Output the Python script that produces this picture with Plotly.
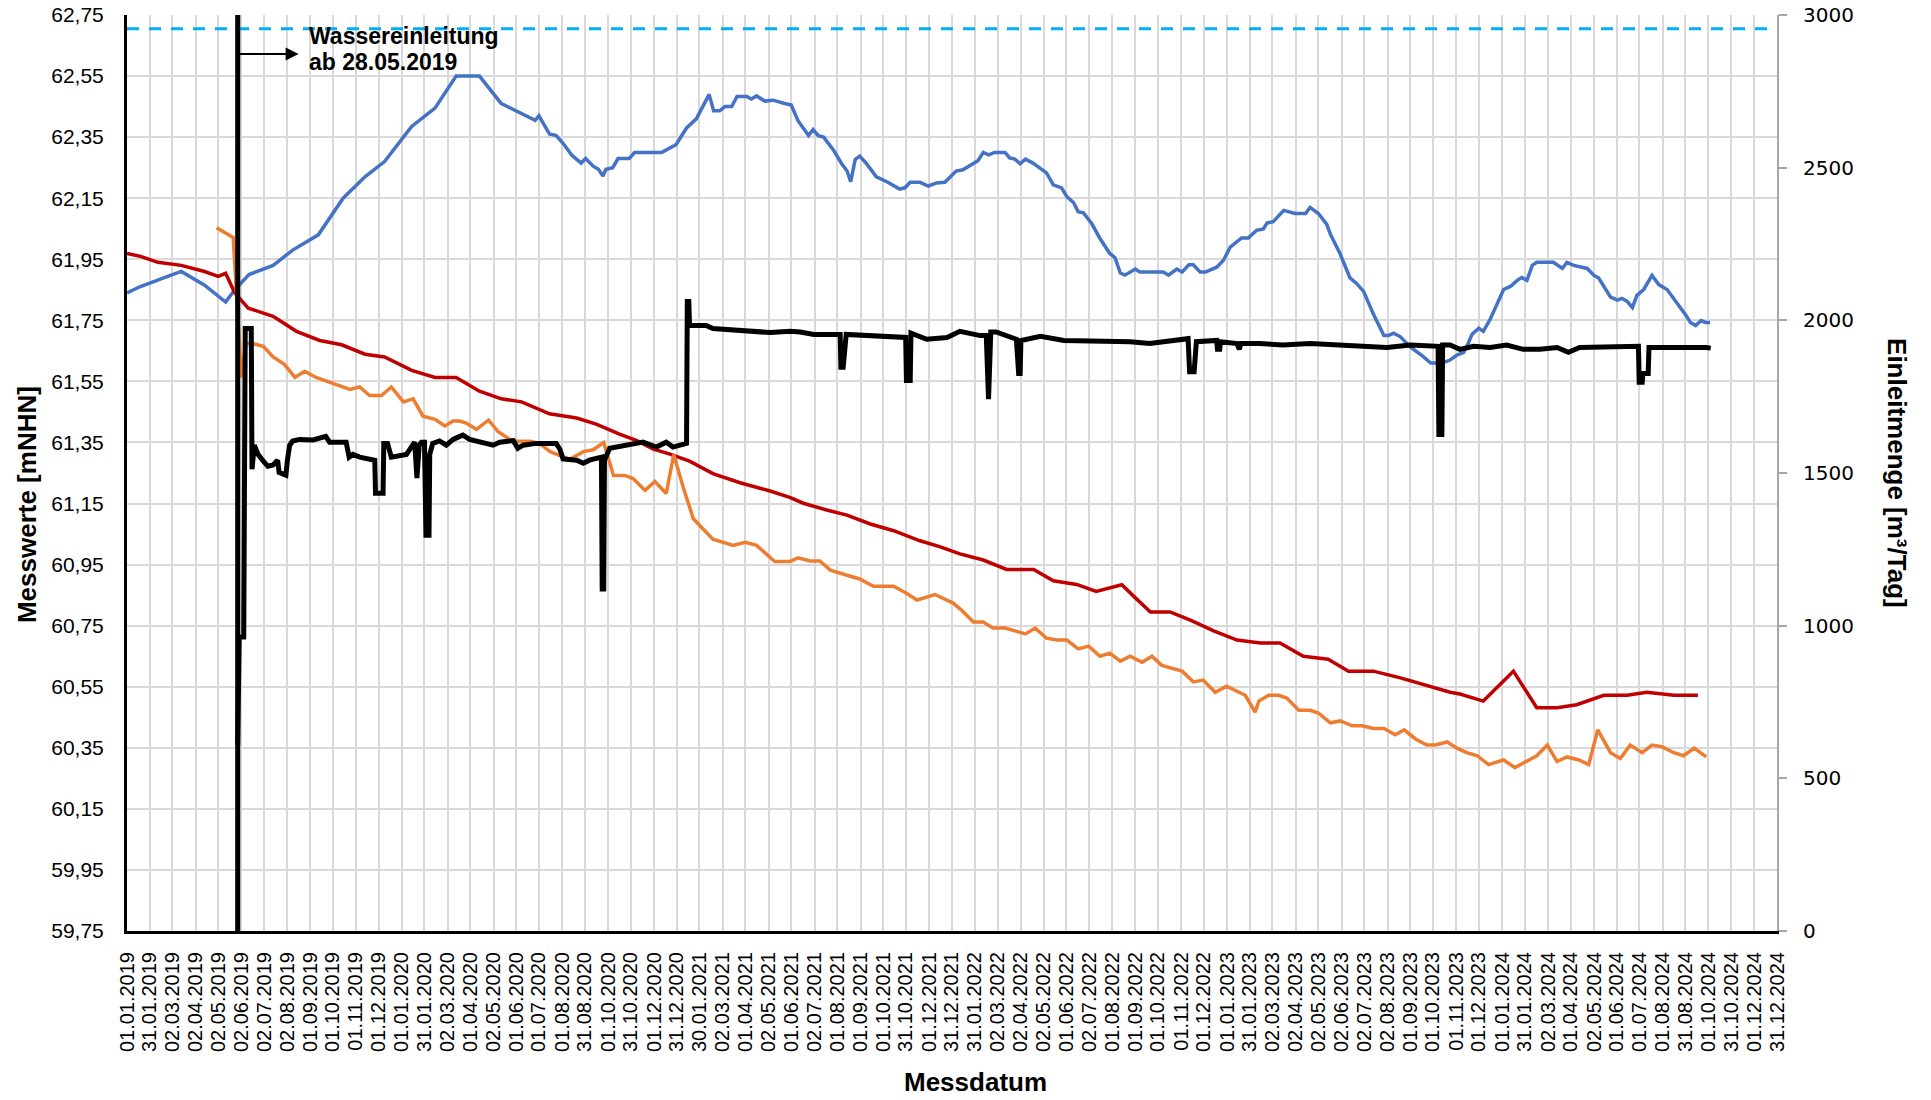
import plotly.graph_objects as go

# ---------------- data ----------------
tick_labels = [
    "01.01.2019", "31.01.2019", "02.03.2019", "02.04.2019", "02.05.2019", "02.06.2019",
    "02.07.2019", "02.08.2019", "01.09.2019", "01.10.2019", "01.11.2019", "01.12.2019",
    "01.01.2020", "31.01.2020", "02.03.2020", "01.04.2020", "02.05.2020", "01.06.2020",
    "01.07.2020", "01.08.2020", "31.08.2020", "01.10.2020", "31.10.2020", "01.12.2020",
    "31.12.2020", "30.01.2021", "02.03.2021", "01.04.2021", "02.05.2021", "01.06.2021",
    "02.07.2021", "01.08.2021", "01.09.2021", "01.10.2021", "31.10.2021", "01.12.2021",
    "31.12.2021", "31.01.2022", "02.03.2022", "02.04.2022", "02.05.2022", "01.06.2022",
    "02.07.2022", "01.08.2022", "01.09.2022", "01.10.2022", "01.11.2022", "01.12.2022",
    "01.01.2023", "31.01.2023", "02.03.2023", "02.04.2023", "02.05.2023", "02.06.2023",
    "02.07.2023", "02.08.2023", "01.09.2023", "01.10.2023", "01.11.2023", "01.12.2023",
    "01.01.2024", "31.01.2024", "02.03.2024", "01.04.2024", "02.05.2024", "01.06.2024",
    "01.07.2024", "01.08.2024", "31.08.2024", "01.10.2024", "31.10.2024", "01.12.2024",
    "31.12.2024",
]

left_tick_vals = [59.75, 59.95, 60.15, 60.35, 60.55, 60.75, 60.95, 61.15, 61.35,
                  61.55, 61.75, 61.95, 62.15, 62.35, 62.55, 62.75]
left_tick_text = ["59,75", "59,95", "60,15", "60,35", "60,55", "60,75", "60,95", "61,15",
                  "61,35", "61,55", "61,75", "61,95", "62,15", "62,35", "62,55", "62,75"]
right_tick_vals = [0, 500, 1000, 1500, 2000, 2500, 3000]

start_date = "2019-05-28"   # Wassereinleitung
ref_level = 62.705          # dashed reference line (mNHN)

blue_dates = [
    "2019-01-01", "2019-01-18", "2019-02-09", "2019-03-14", "2019-04-14", "2019-05-12",
    "2019-05-24", "2019-06-12", "2019-07-14", "2019-08-09", "2019-09-12", "2019-10-15",
    "2019-11-13", "2019-12-09", "2020-01-14", "2020-02-14", "2020-03-13", "2020-04-13",
    "2020-05-12", "2020-06-01", "2020-06-26", "2020-07-01", "2020-07-15", "2020-07-24",
    "2020-08-02", "2020-08-14", "2020-08-26", "2020-09-01", "2020-09-11", "2020-09-18",
    "2020-09-24", "2020-09-28", "2020-10-07", "2020-10-14", "2020-10-29", "2020-11-05",
    "2020-12-11", "2020-12-30", "2021-01-13", "2021-01-26", "2021-02-08", "2021-02-12",
    "2021-02-18", "2021-02-26", "2021-03-05", "2021-03-14", "2021-03-21", "2021-04-03",
    "2021-04-09", "2021-04-16", "2021-04-27", "2021-05-08", "2021-05-22", "2021-06-01",
    "2021-06-10", "2021-06-24", "2021-06-30", "2021-07-07", "2021-07-14", "2021-07-27",
    "2021-08-07", "2021-08-14", "2021-08-19", "2021-08-25", "2021-08-31", "2021-09-09",
    "2021-09-22", "2021-10-06", "2021-10-23", "2021-10-30", "2021-11-06", "2021-11-19",
    "2021-11-30", "2021-12-11", "2021-12-22", "2022-01-06", "2022-01-15", "2022-02-04",
    "2022-02-11", "2022-02-18", "2022-02-26", "2022-03-12", "2022-03-18", "2022-03-25",
    "2022-04-01", "2022-04-08", "2022-04-18", "2022-05-06", "2022-05-15", "2022-05-26",
    "2022-06-02", "2022-06-11", "2022-06-17", "2022-06-24", "2022-07-05", "2022-07-16",
    "2022-07-29", "2022-08-05", "2022-08-12", "2022-08-18", "2022-09-01", "2022-09-07",
    "2022-10-08", "2022-10-15", "2022-10-26", "2022-11-02", "2022-11-11", "2022-11-17",
    "2022-11-26", "2022-12-03", "2022-12-18", "2022-12-27", "2023-01-05", "2023-01-14",
    "2023-01-20", "2023-01-29", "2023-02-09", "2023-02-18", "2023-02-23", "2023-03-03",
    "2023-03-17", "2023-04-01", "2023-04-15", "2023-04-21", "2023-05-02", "2023-05-13",
    "2023-05-18", "2023-05-31", "2023-06-13", "2023-06-22", "2023-07-01", "2023-07-14",
    "2023-07-28", "2023-08-03", "2023-08-10", "2023-08-19", "2023-09-01", "2023-09-17",
    "2023-09-28", "2023-10-13", "2023-10-24", "2023-11-02", "2023-11-11", "2023-11-17",
    "2023-11-22", "2023-12-01", "2023-12-07", "2023-12-16", "2023-12-25", "2024-01-03",
    "2024-01-12", "2024-01-21", "2024-01-27", "2024-02-03", "2024-02-10", "2024-02-16",
    "2024-03-09", "2024-03-21", "2024-03-27", "2024-04-05", "2024-04-23", "2024-05-02",
    "2024-05-08", "2024-05-15", "2024-05-24", "2024-06-02", "2024-06-08", "2024-06-15",
    "2024-06-22", "2024-06-28", "2024-07-07", "2024-07-18", "2024-07-27", "2024-08-07",
    "2024-08-16", "2024-08-25", "2024-09-01", "2024-09-07", "2024-09-14", "2024-09-21",
    "2024-09-27", "2024-10-03",
]
blue_values = [
    61.84, 61.86, 61.88, 61.91, 61.865, 61.81,
    61.85, 61.90, 61.93, 61.98, 62.03, 62.15,
    62.22, 62.27, 62.385, 62.445, 62.55, 62.55,
    62.46, 62.435, 62.405, 62.42, 62.36, 62.355,
    62.33, 62.29, 62.265, 62.28, 62.255, 62.245,
    62.223, 62.245, 62.25, 62.28, 62.28, 62.30,
    62.30, 62.325, 62.38, 62.41, 62.47, 62.49,
    62.436, 62.436, 62.45, 62.45, 62.483, 62.483,
    62.475, 62.485, 62.468, 62.471, 62.461, 62.455,
    62.404, 62.355, 62.375, 62.355, 62.35, 62.308,
    62.263, 62.24, 62.204, 62.277, 62.288, 62.263,
    62.22, 62.204, 62.18, 62.184, 62.202, 62.202,
    62.19, 62.20, 62.202, 62.239, 62.243, 62.273,
    62.30, 62.292, 62.30, 62.30, 62.282, 62.278,
    62.263, 62.278, 62.265, 62.233, 62.194, 62.184,
    62.155, 62.135, 62.106, 62.102, 62.067, 62.018,
    61.969, 61.955, 61.905, 61.898, 61.918, 61.908,
    61.908, 61.898, 61.918, 61.908, 61.932, 61.932,
    61.908, 61.908, 61.924, 61.947, 61.99, 62.006,
    62.02, 62.02, 62.045, 62.049, 62.069, 62.073,
    62.11, 62.10, 62.10, 62.12, 62.10, 62.065,
    62.032, 61.967, 61.889, 61.87, 61.845, 61.771,
    61.70, 61.70, 61.708, 61.696, 61.663, 61.634,
    61.61, 61.61, 61.62, 61.636, 61.645, 61.675,
    61.704, 61.724, 61.714, 61.753, 61.802, 61.851,
    61.861, 61.881, 61.89, 61.881, 61.93, 61.94,
    61.94, 61.92, 61.94, 61.93, 61.92, 61.897,
    61.889, 61.861, 61.826, 61.816, 61.822, 61.812,
    61.792, 61.832, 61.851, 61.897, 61.867, 61.851,
    61.822, 61.792, 61.767, 61.743, 61.733, 61.749,
    61.743, 61.743,
]

red_dates = [
    "2019-01-01", "2019-01-18", "2019-02-11", "2019-03-14", "2019-04-14", "2019-05-02",
    "2019-05-12", "2019-05-24", "2019-06-11", "2019-07-14", "2019-08-14", "2019-09-14",
    "2019-10-13", "2019-11-13", "2019-12-09", "2020-01-14", "2020-02-14", "2020-03-13",
    "2020-04-13", "2020-05-12", "2020-06-08", "2020-07-15", "2020-08-20", "2020-09-15",
    "2020-10-16", "2020-11-08", "2020-11-30", "2020-12-22", "2021-01-17", "2021-02-17",
    "2021-03-25", "2021-05-04", "2021-05-30", "2021-06-17", "2021-07-18", "2021-08-14",
    "2021-09-14", "2021-10-15", "2021-11-19", "2021-12-16", "2022-01-11", "2022-02-11",
    "2022-03-14", "2022-04-19", "2022-05-15", "2022-06-15", "2022-07-11", "2022-08-14",
    "2022-09-01", "2022-09-21", "2022-10-17", "2022-11-13", "2022-12-14", "2023-01-14",
    "2023-02-14", "2023-03-12", "2023-04-12", "2023-05-15", "2023-06-11", "2023-07-14",
    "2023-08-19", "2023-09-23", "2023-10-24", "2023-11-06", "2023-12-07", "2024-01-16",
    "2024-02-16", "2024-03-14", "2024-04-09", "2024-05-15", "2024-06-15", "2024-07-11",
    "2024-08-16", "2024-09-17",
]
red_values = [
    61.969, 61.96, 61.94, 61.93, 61.91, 61.894,
    61.904, 61.84, 61.79, 61.763, 61.714, 61.684,
    61.67, 61.639, 61.63, 61.586, 61.563, 61.563,
    61.518, 61.493, 61.483, 61.444, 61.43, 61.41,
    61.377, 61.356, 61.328, 61.312, 61.289, 61.248,
    61.218, 61.191, 61.17, 61.151, 61.129, 61.112,
    61.083, 61.061, 61.028, 61.008, 60.985, 60.965,
    60.934, 60.934, 60.897, 60.885, 60.862, 60.884,
    60.841, 60.795, 60.795, 60.768, 60.733, 60.703,
    60.693, 60.693, 60.65, 60.64, 60.601, 60.601,
    60.579, 60.554, 60.532, 60.526, 60.503, 60.601,
    60.481, 60.481, 60.491, 60.522, 60.522, 60.532,
    60.522, 60.522,
]

orange_dates = [
    "2019-04-30", "2019-05-22", "2019-06-02", "2019-06-08", "2019-06-17", "2019-07-01",
    "2019-07-14", "2019-07-29", "2019-08-12", "2019-08-25", "2019-09-09", "2019-10-02",
    "2019-10-24", "2019-11-06", "2019-11-19", "2019-12-05", "2019-12-18", "2020-01-03",
    "2020-01-16", "2020-01-29", "2020-02-14", "2020-02-27", "2020-03-09", "2020-03-18",
    "2020-03-27", "2020-04-09", "2020-04-25", "2020-05-08", "2020-05-23", "2020-06-01",
    "2020-06-19", "2020-07-02", "2020-07-16", "2020-07-29", "2020-08-11", "2020-08-29",
    "2020-09-11", "2020-09-25", "2020-10-01", "2020-10-08", "2020-10-23", "2020-11-03",
    "2020-11-19", "2020-12-02", "2020-12-17", "2020-12-27", "2021-01-09", "2021-01-22",
    "2021-02-17", "2021-03-16", "2021-04-01", "2021-04-16", "2021-05-10", "2021-05-30",
    "2021-06-10", "2021-06-26", "2021-07-09", "2021-07-23", "2021-08-14", "2021-08-31",
    "2021-09-18", "2021-10-15", "2021-11-01", "2021-11-15", "2021-12-09", "2022-01-02",
    "2022-01-13", "2022-01-29", "2022-02-11", "2022-02-24", "2022-03-12", "2022-04-08",
    "2022-04-21", "2022-05-06", "2022-05-20", "2022-06-02", "2022-06-17", "2022-07-01",
    "2022-07-16", "2022-07-29", "2022-08-12", "2022-08-25", "2022-09-10", "2022-09-23",
    "2022-10-06", "2022-11-02", "2022-11-17", "2022-11-30", "2022-12-16", "2022-12-31",
    "2023-01-25", "2023-02-07", "2023-02-12", "2023-02-25", "2023-03-10", "2023-03-21",
    "2023-04-06", "2023-04-21", "2023-05-02", "2023-05-18", "2023-05-31", "2023-06-16",
    "2023-06-29", "2023-07-14", "2023-07-28", "2023-08-12", "2023-08-24", "2023-09-08",
    "2023-09-23", "2023-10-04", "2023-10-20", "2023-11-02", "2023-11-15", "2023-11-29",
    "2023-12-14", "2024-01-03", "2024-01-18", "2024-02-01", "2024-02-16", "2024-03-01",
    "2024-03-14", "2024-03-27", "2024-04-12", "2024-04-25", "2024-05-07", "2024-05-24",
    "2024-06-06", "2024-06-19", "2024-07-05", "2024-07-18", "2024-07-31", "2024-08-16",
    "2024-08-29", "2024-09-12", "2024-09-28",
]
orange_values = [
    62.053, 62.021, 61.563, 61.674, 61.674, 61.665,
    61.63, 61.606, 61.563, 61.583, 61.563, 61.544,
    61.524, 61.532, 61.504, 61.504, 61.532, 61.483,
    61.493, 61.436, 61.426, 61.404, 61.42, 61.42,
    61.413, 61.393, 61.423, 61.385, 61.36, 61.354,
    61.354, 61.346, 61.32, 61.307, 61.295, 61.32,
    61.326, 61.35, 61.30, 61.242, 61.242, 61.232,
    61.193, 61.222, 61.183, 61.31, 61.20, 61.10,
    61.033, 61.013, 61.023, 61.013, 60.96, 60.96,
    60.972, 60.962, 60.962, 60.932, 60.915, 60.903,
    60.879, 60.879, 60.856, 60.834, 60.852, 60.824,
    60.801, 60.762, 60.762, 60.742, 60.742, 60.723,
    60.742, 60.709, 60.703, 60.703, 60.674, 60.683,
    60.65, 60.66, 60.634, 60.65, 60.63, 60.65,
    60.62, 60.601, 60.566, 60.572, 60.532, 60.552,
    60.522, 60.467, 60.503, 60.522, 60.522, 60.513,
    60.473, 60.473, 60.464, 60.432, 60.438, 60.422,
    60.422, 60.413, 60.413, 60.393, 60.409, 60.379,
    60.359, 60.359, 60.369, 60.349, 60.334, 60.324,
    60.295, 60.31, 60.285, 60.305, 60.324, 60.359,
    60.305, 60.32, 60.31, 60.295, 60.409, 60.334,
    60.315, 60.359, 60.334, 60.359, 60.354, 60.334,
    60.324, 60.349, 60.32,
]

flow_dates = [
    "2019-05-28", "2019-05-30", "2019-06-05", "2019-06-07", "2019-06-15", "2019-06-16",
    "2019-06-19", "2019-06-24", "2019-06-30", "2019-07-07", "2019-07-14", "2019-07-20",
    "2019-07-22", "2019-07-31", "2019-08-02", "2019-08-05", "2019-08-09", "2019-08-18",
    "2019-09-05", "2019-09-22", "2019-09-27", "2019-10-19", "2019-10-23", "2019-10-28",
    "2019-11-06", "2019-11-15", "2019-11-26", "2019-11-27", "2019-12-07", "2019-12-08",
    "2019-12-13", "2019-12-18", "2020-01-07", "2020-01-18", "2020-01-21", "2020-01-24",
    "2020-01-27", "2020-01-31", "2020-02-02", "2020-02-06", "2020-02-07", "2020-02-11",
    "2020-02-20", "2020-02-29", "2020-03-09", "2020-03-18", "2020-03-22", "2020-03-31",
    "2020-04-17", "2020-05-01", "2020-05-10", "2020-05-28", "2020-06-03", "2020-06-10",
    "2020-06-27", "2020-07-11", "2020-07-24", "2020-07-29", "2020-08-02", "2020-08-20",
    "2020-08-29", "2020-09-06", "2020-09-22", "2020-09-23", "2020-09-25", "2020-09-26",
    "2020-10-03", "2020-10-12", "2020-10-29", "2020-11-16", "2020-12-04", "2020-12-17",
    "2020-12-26", "2021-01-04", "2021-01-13", "2021-01-14", "2021-01-16", "2021-01-17",
    "2021-01-26", "2021-02-08", "2021-02-17", "2021-03-16", "2021-04-07", "2021-05-04",
    "2021-05-31", "2021-06-13", "2021-07-01", "2021-08-05", "2021-08-06", "2021-08-09",
    "2021-08-13", "2021-09-27", "2021-10-24", "2021-10-31", "2021-11-01", "2021-11-06",
    "2021-11-07", "2021-11-28", "2021-12-25", "2022-01-11", "2022-02-07", "2022-02-15",
    "2022-02-18", "2022-02-21", "2022-02-28", "2022-03-23", "2022-03-27", "2022-03-30",
    "2022-04-01", "2022-04-02", "2022-04-28", "2022-05-29", "2022-06-20", "2022-07-16",
    "2022-08-12", "2022-08-25", "2022-09-20", "2022-10-26", "2022-11-10", "2022-11-12",
    "2022-11-18", "2022-11-21", "2022-12-18", "2022-12-19", "2022-12-22", "2022-12-23",
    "2023-01-14", "2023-01-17", "2023-01-19", "2023-02-13", "2023-03-16", "2023-04-21",
    "2023-06-04", "2023-07-01", "2023-08-01", "2023-09-01", "2023-09-27", "2023-10-08",
    "2023-10-09", "2023-10-13", "2023-10-14", "2023-10-24", "2023-11-06", "2023-11-24",
    "2023-12-16", "2024-01-07", "2024-01-29", "2024-02-20", "2024-03-14", "2024-03-29",
    "2024-04-13", "2024-05-19", "2024-06-10", "2024-06-30", "2024-07-01", "2024-07-05",
    "2024-07-06", "2024-07-13", "2024-07-14", "2024-08-15", "2024-09-11", "2024-09-28",
    "2024-10-04",
]
flow_values = [
    609, 963, 963, 1973, 1973, 1512,
    1591, 1561, 1542, 1522, 1526, 1542,
    1502, 1493, 1542, 1591, 1605, 1610,
    1608, 1620, 1601, 1601, 1552, 1561,
    1552, 1546, 1542, 1434, 1434, 1597,
    1597, 1552, 1561, 1601, 1483, 1591,
    1601, 1601, 1296, 1296, 1561, 1597,
    1605, 1591, 1610, 1620, 1624, 1610,
    1601, 1591, 1601, 1606, 1581, 1591,
    1597, 1597, 1597, 1577, 1546, 1542,
    1532, 1542, 1552, 1120, 1120, 1542,
    1581, 1585, 1591, 1601, 1585, 1601,
    1585, 1591, 1597, 2062, 2062, 1983,
    1983, 1983, 1973, 1968, 1968, 1960,
    1964, 1962, 1954, 1954, 1846, 1846,
    1954, 1950, 1944, 1944, 1803, 1803,
    1958, 1938, 1944, 1964, 1950, 1950,
    1742, 1962, 1962, 1938, 1938, 1826,
    1826, 1934, 1948, 1934, 1934, 1934,
    1934, 1930, 1924, 1934, 1940, 1832,
    1832, 1930, 1934, 1905, 1905, 1930,
    1924, 1905, 1924, 1924, 1919, 1924,
    1919, 1915, 1911, 1919, 1915, 1915,
    1626, 1626, 1919, 1919, 1905, 1915,
    1911, 1919, 1905, 1905, 1911, 1895,
    1911, 1911, 1911, 1915, 1797, 1797,
    1826, 1826, 1911, 1911, 1915, 1911,
    1909,
]

# ---------------- figure ----------------
tick_vals = [f"{t[6:]}-{t[3:5]}-{t[0:2]}" for t in tick_labels]

FONT = "Liberation Sans, Arial, sans-serif"
GRID = "#D9D9D9"

fig = go.Figure()
fig.add_trace(go.Scatter(x=blue_dates, y=blue_values, mode="lines",
                         line=dict(color="#4472C4", width=3.5), yaxis="y"))
fig.add_trace(go.Scatter(x=red_dates, y=red_values, mode="lines",
                         line=dict(color="#C00000", width=3.5), yaxis="y"))
fig.add_trace(go.Scatter(x=orange_dates, y=orange_values, mode="lines",
                         line=dict(color="#ED7D31", width=3.5), yaxis="y"))
fig.add_trace(go.Scatter(x=flow_dates, y=flow_values, mode="lines",
                         line=dict(color="#000000", width=5), yaxis="y2"))

fig.update_layout(
    width=1931, height=1100,
    margin=dict(l=127, r=154, t=15, b=169, autoexpand=False),
    paper_bgcolor="white", plot_bgcolor="white",
    showlegend=False,
    font=dict(family=FONT, color="black"),
    xaxis=dict(
        type="date", range=["2019-01-01", "2024-12-31"], automargin=False,
        tickvals=tick_vals, ticktext=tick_labels, tickangle=-90,
        tickfont=dict(family=FONT, size=20, color="black"),
        showgrid=True, gridcolor=GRID, gridwidth=2,
        showline=True, linecolor="black", linewidth=3,
        ticks="", zeroline=False, ticklabelstandoff=10,
        ticklabeloverflow="allow",
    ),
    yaxis=dict(
        range=[59.75, 62.75], tickvals=left_tick_vals, ticktext=left_tick_text,
        automargin=False,
        tickfont=dict(family=FONT, size=21, color="black"),
        showgrid=True, gridcolor=GRID, gridwidth=2,
        showline=True, linecolor="black", linewidth=3,
        ticks="", zeroline=False, ticklabelstandoff=16,
        ticklabeloverflow="allow",
    ),
    yaxis2=dict(
        overlaying="y", side="right", range=[0, 3000], tickvals=right_tick_vals,
        automargin=False,
        tickfont=dict(family="DejaVu Sans, Verdana, sans-serif", size=20, color="black"),
        showgrid=False, zeroline=False,
        showline=True, linecolor="#A6A6A6", linewidth=2,
        ticks="outside", ticklen=8, tickwidth=2, tickcolor="#A6A6A6",
        ticklabelstandoff=12, ticklabeloverflow="allow",
    ),
)

# dashed reference level and start-of-injection line
fig.add_shape(type="line", xref="paper", x0=0, x1=1, yref="y", y0=ref_level, y1=ref_level,
              line=dict(color="#00B0F0", width=3, dash="12px,10px"))
fig.add_shape(type="line", xref="x", x0=start_date, x1=start_date, yref="paper", y0=0, y1=1,
              line=dict(color="black", width=5))

# annotation arrow + text
fig.add_annotation(xref="paper", yref="paper", x=0.104, y=0.9574, text="",
                   showarrow=True, ax=-64, ay=0, arrowhead=2, arrowsize=1.3,
                   arrowwidth=2, arrowcolor="black")
fig.add_annotation(xref="paper", yref="paper", x=0.1088, y=0.977, xanchor="left",
                   yanchor="middle", text="<b>Wassereinleitung</b>", showarrow=False,
                   font=dict(family=FONT, size=23, color="black"))
fig.add_annotation(xref="paper", yref="paper", x=0.1088, y=0.9487, xanchor="left",
                   yanchor="middle", text="<b>ab 28.05.2019</b>", showarrow=False,
                   font=dict(family=FONT, size=23, color="black"))

# axis titles
fig.add_annotation(xref="paper", yref="paper", x=-0.0606, y=0.465, textangle=-90,
                   text="<b>Messwerte [mNHN]</b>", showarrow=False,
                   xanchor="center", yanchor="middle",
                   font=dict(family=FONT, size=26, color="black"))
fig.add_annotation(xref="paper", yref="paper", x=1.0727, y=0.5, textangle=90,
                   text="<b>Einleitmenge [m³/Tag]</b>", showarrow=False,
                   xanchor="center", yanchor="middle",
                   font=dict(family=FONT, size=26, color="black"))
fig.add_annotation(xref="paper", yref="paper", x=0.514, y=-0.1648,
                   text="<b>Messdatum</b>", showarrow=False,
                   xanchor="center", yanchor="middle",
                   font=dict(family=FONT, size=26, color="black"))

# remove the default 8px page margin so the figure fills the window exactly
fig.write_html("out.html", config={"displayModeBar": False},
               post_script="document.body.style.margin='0px';")
